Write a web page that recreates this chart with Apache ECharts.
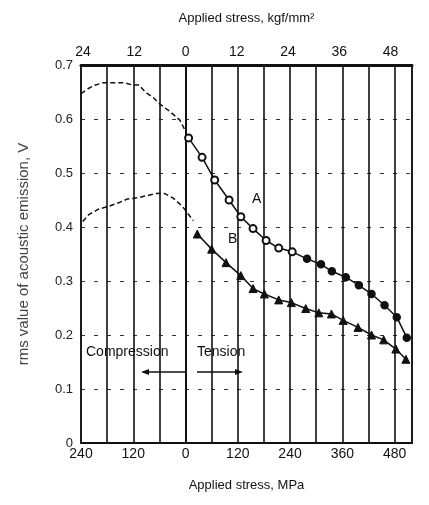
<!DOCTYPE html>
<html><head><meta charset="utf-8">
<script src="https://cdn.jsdelivr.net/npm/echarts@6/dist/echarts.min.js"></script>
<style>html,body{margin:0;padding:0;background:#fff}#c{width:429px;height:505px}</style>
</head><body><div id="c"></div>
<script>
// ---- data (stress in MPa, rms in V) ----
const stressA_dash = [-240,-222,-207,-189,-158,-140,-122,-107,-91,-73,-58,-36,-13,2];
const rmsA_dash    = [0.647,0.657,0.663,0.667,0.667,0.667,0.663,0.663,0.649,0.639,0.627,0.614,0.598,0.574];
const stressA = [7,38,67,100,127,155,185,214,245,279,311,336,368,398,427,457,485,508];
const rmsA    = [0.565,0.529,0.487,0.450,0.419,0.397,0.375,0.361,0.354,0.341,0.331,0.318,0.307,0.292,0.276,0.255,0.233,0.195];
const stressB_dash = [-236,-222,-200,-178,-156,-133,-111,-89,-67,-51,-29,-7,7,18];
const rmsB_dash    = [0.410,0.423,0.433,0.438,0.444,0.452,0.454,0.458,0.462,0.463,0.454,0.438,0.423,0.412];
const stressB = [27,60,93,127,155,181,214,243,276,306,335,362,396,427,455,483,506];
const rmsB    = [0.387,0.359,0.334,0.310,0.286,0.276,0.265,0.260,0.249,0.241,0.239,0.227,0.214,0.200,0.191,0.174,0.155];
const kgfTicks = [-24,-12,0,12,24,36,48];
const MPA_PER_KGF = 9.807;
const xMin = -240, xMax = 520;

const zip = (a,b) => a.map((v,i)=>[v,b[i]]);
const FONT = '"Liberation Sans", Arial, sans-serif';
const INK = '#111';

const chart = echarts.init(document.getElementById('c'), null, {renderer:'canvas'});
chart.setOption({
  backgroundColor:'#fff',
  animation:false,
  textStyle:{fontFamily:FONT, color:INK},
  grid:{left:81, right:17, top:65, bottom:62, show:true, borderColor:INK, borderWidth:1.5},
  xAxis:[{
    type:'value', position:'bottom', min:xMin, max:xMax, interval:60,
    name:'Applied stress, MPa', nameLocation:'middle', nameGap:36,
    nameTextStyle:{fontSize:13, color:INK, fontFamily:FONT},
    axisLine:{show:true, onZero:false, lineStyle:{color:INK, width:2}},
    axisTick:{show:false},
    axisLabel:{fontSize:14, color:INK, margin:4, fontFamily:FONT,
      formatter:v => (v % 120 === 0 && v <= 480) ? String(Math.abs(v)) : ''},
    splitLine:{show:true, lineStyle:{color:INK, width:1.6}}
  },{
    type:'value', position:'top', min:xMin/MPA_PER_KGF, max:xMax/MPA_PER_KGF,
    name:'Applied stress, kgf/mm²', nameLocation:'middle', nameGap:40,
    nameTextStyle:{fontSize:13, color:INK, fontFamily:FONT},
    axisLine:{show:true, onZero:false, lineStyle:{color:INK, width:3}},
    axisTick:{show:false},
    axisLabel:{fontSize:14, color:INK, margin:6, fontFamily:FONT,
      customValues:kgfTicks, formatter:v => String(Math.abs(Math.round(v)))},
    splitLine:{show:false}
  }],
  yAxis:{
    type:'value', min:0, max:0.7, interval:0.1,
    name:'rms value of acoustic emission, V', nameLocation:'middle', nameGap:50,
    nameTextStyle:{fontSize:15, color:'#444', fontFamily:FONT},
    axisLine:{show:true, lineStyle:{color:INK, width:2}},
    axisTick:{show:false},
    axisLabel:{fontSize:13, color:'#222', margin:8, fontFamily:FONT,
      formatter:v => v === 0 ? '0' : v.toFixed(1)},
    splitLine:{show:true, lineStyle:{color:'#333', width:1.2, type:[4,9]}}
  },
  series:[
    {type:'line', data:zip(stressA_dash, rmsA_dash), showSymbol:false, symbol:'none',
     lineStyle:{color:INK, width:1.5, type:[5,3]}},
    {type:'line', data:zip(stressA, rmsA), symbolSize:7,
     symbol:(v)=> v[0] < 250 ? 'emptyCircle' : 'circle',
     itemStyle:{color:INK, borderColor:INK, borderWidth:1.5},
     lineStyle:{color:INK, width:1.5}},
    {type:'line', data:zip(stressB_dash, rmsB_dash), showSymbol:false, symbol:'none',
     lineStyle:{color:INK, width:1.5, type:[5,3]}},
    {type:'line', data:zip(stressB, rmsB), symbolSize:8,
     symbol:'triangle',
     itemStyle:{color:INK, borderColor:INK, borderWidth:1},
     lineStyle:{color:INK, width:1.5}}
  ],
  graphic:[
    {type:'text', left:252, top:192, style:{text:'A', fontSize:14, fill:INK, fontFamily:FONT}},
    {type:'text', left:228, top:232, style:{text:'B', fontSize:14, fill:INK, fontFamily:FONT}},
    {type:'text', left:86, top:345, style:{text:'Compression', fontSize:14, fill:INK, fontFamily:FONT}},
    {type:'text', left:197, top:345, style:{text:'Tension', fontSize:14, fill:INK, fontFamily:FONT}},
    {type:'line', shape:{x1:143,y1:372,x2:185,y2:372}, style:{stroke:INK, lineWidth:1.5}},
    {type:'polygon', shape:{points:[[141,372],[149,369],[149,375]]}, style:{fill:INK}},
    {type:'line', shape:{x1:197,y1:372,x2:240,y2:372}, style:{stroke:INK, lineWidth:1.5}},
    {type:'polygon', shape:{points:[[243,372],[235,369],[235,375]]}, style:{fill:INK}}
  ]
});
</script></body></html>
